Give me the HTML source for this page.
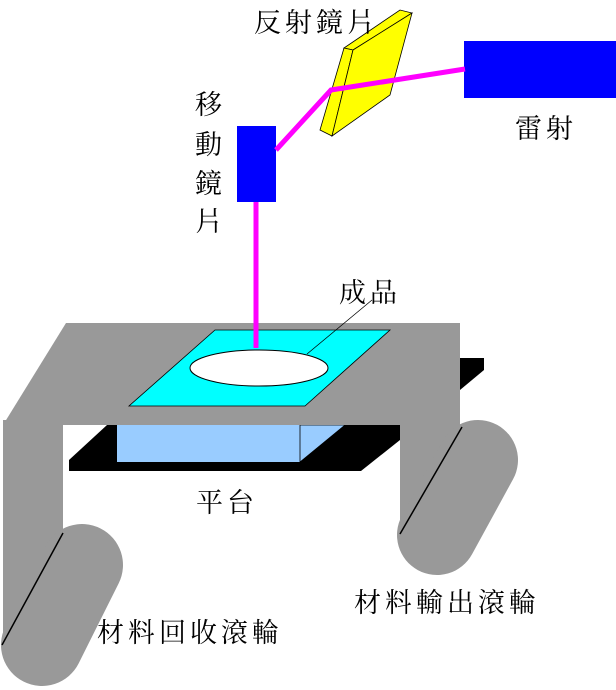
<!DOCTYPE html>
<html><head><meta charset="utf-8"><style>
html,body{margin:0;padding:0;background:#fff;}
svg{display:block}
text{font-family:"Liberation Serif","Noto Serif CJK TC","Noto Sans CJK TC",serif;font-size:27px;letter-spacing:4px;fill:#000}
</style></head><body>
<svg width="616" height="690" viewBox="0 0 616 690" xmlns="http://www.w3.org/2000/svg">
<polygon points="107,425 400,425 400,440 361,471 69,471 69,460" fill="#000"/>
<polygon points="460,358 484,358 484,370 460,390" fill="#000"/>
<rect x="117" y="425" width="183" height="37" fill="#99ccff"/>
<polygon points="300,425 345,425 300,462" fill="#99ccff" stroke="#000" stroke-width="0.8"/>
<rect x="3" y="420" width="60" height="225" fill="#999"/>
<rect x="400" y="420" width="60" height="115" fill="#999"/>
<line x1="82" y1="565" x2="42" y2="645" stroke="#999" stroke-width="82" stroke-linecap="round"/>
<line x1="478" y1="460" x2="437" y2="535" stroke="#999" stroke-width="80" stroke-linecap="round"/>
<line x1="63" y1="533" x2="2" y2="645" stroke="#000" stroke-width="1.5"/>
<line x1="462" y1="427" x2="400" y2="534" stroke="#000" stroke-width="1.5"/>
<polygon points="66,323 460,323 460,425 3,425" fill="#999"/>
<polygon points="215,330 390,330 305,406 129,406" fill="#00ffff" stroke="#000" stroke-width="0.8"/>
<ellipse cx="259" cy="368" rx="69" ry="18" fill="#fff" stroke="#000" stroke-width="1"/>
<line x1="307" y1="354" x2="372" y2="300" stroke="#000" stroke-width="0.8"/>
<rect x="464" y="41" width="152" height="57" fill="#0000ff"/>
<polygon points="344,48 400,10 412,13 353,50" fill="#ffff00" stroke="#000" stroke-width="0.8"/>
<polygon points="344,48 353,50 332,136 320,130" fill="#ffff00" stroke="#000" stroke-width="0.8"/>
<polygon points="353,50 412,13 390,95 332,136" fill="#ffff00" stroke="#000" stroke-width="0.8"/>
<rect x="237" y="126" width="39" height="76" fill="#0000ff"/>
<polyline points="465,69 331,90 276,150" fill="none" stroke="#ff00ff" stroke-width="5"/>
<line x1="256" y1="202" x2="256" y2="348" stroke="#ff00ff" stroke-width="5"/>
<text x="254" y="32">反射鏡片</text>
<text x="515" y="138">雷射</text>
<text x="195" y="114">移</text>
<text x="195" y="154">動</text>
<text x="195" y="193">鏡</text>
<text x="195" y="231">片</text>
<text x="339" y="302">成品</text>
<text x="196" y="512">平台</text>
<text x="354" y="612">材料輸出滾輪</text>
<text x="97" y="642">材料回收滾輪</text>
</svg>
</body></html>
